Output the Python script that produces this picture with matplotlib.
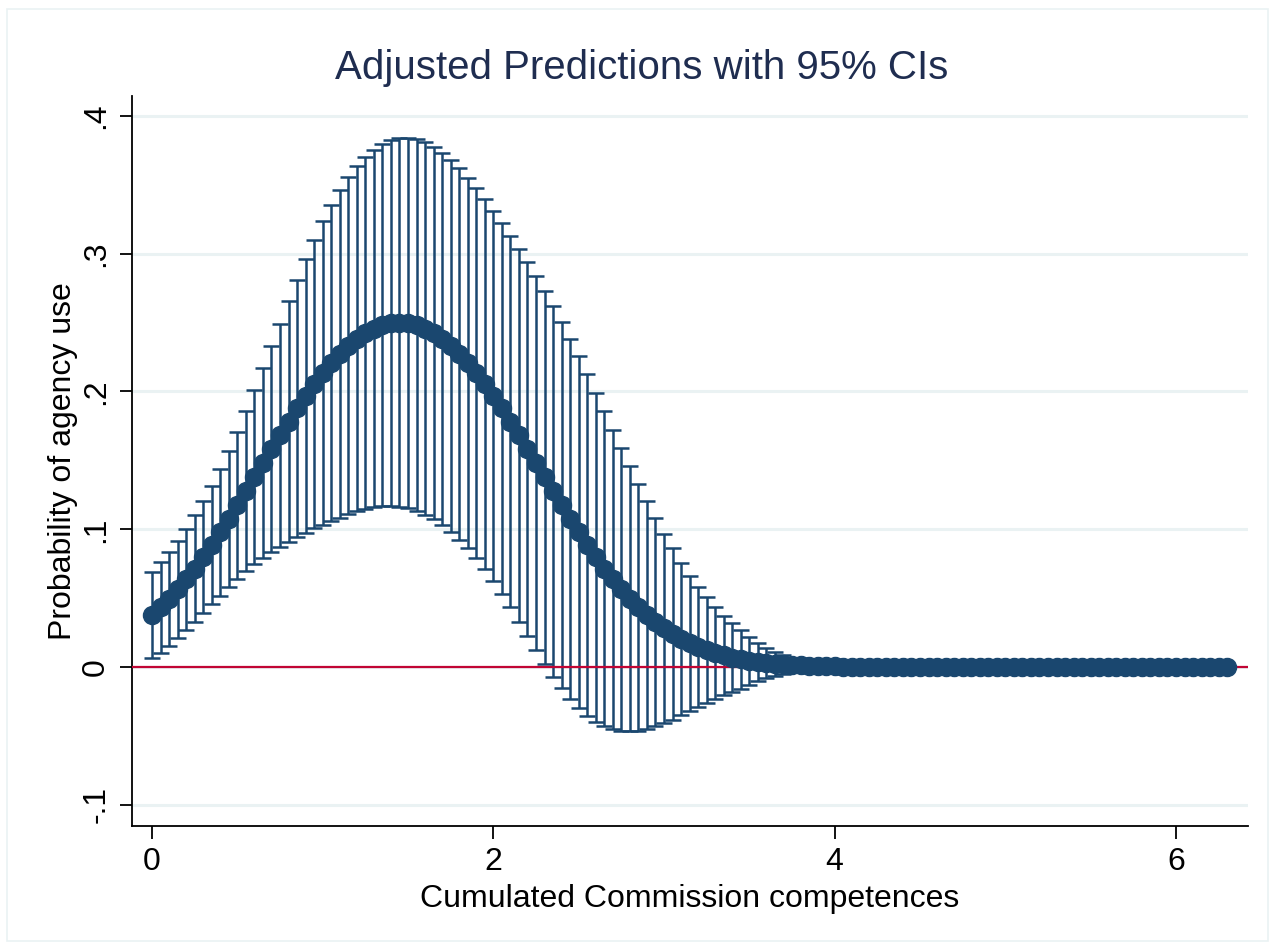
import matplotlib
matplotlib.use("Agg")
import matplotlib.pyplot as plt
from matplotlib.patches import Rectangle

plt.rcParams["font.family"] = ["Liberation Sans", "DejaVu Sans"]

# evaluation points of cumulated Commission competences
competences = [
    0.00, 0.05, 0.10, 0.15, 0.20, 0.25, 0.30, 0.35, 0.40, 0.45,
    0.50, 0.55, 0.60, 0.65, 0.70, 0.75, 0.80, 0.85, 0.90, 0.95,
    1.00, 1.05, 1.10, 1.15, 1.20, 1.25, 1.30, 1.35, 1.40, 1.45,
    1.50, 1.55, 1.60, 1.65, 1.70, 1.75, 1.80, 1.85, 1.90, 1.95,
    2.00, 2.05, 2.10, 2.15, 2.20, 2.25, 2.30, 2.35, 2.40, 2.45,
    2.50, 2.55, 2.60, 2.65, 2.70, 2.75, 2.80, 2.85, 2.90, 2.95,
    3.00, 3.05, 3.10, 3.15, 3.20, 3.25, 3.30, 3.35, 3.40, 3.45,
    3.50, 3.55, 3.60, 3.65, 3.70, 3.75, 3.80, 3.85, 3.90, 3.95,
    4.00, 4.05, 4.10, 4.15, 4.20, 4.25, 4.30, 4.35, 4.40, 4.45,
    4.50, 4.55, 4.60, 4.65, 4.70, 4.75, 4.80, 4.85, 4.90, 4.95,
    5.00, 5.05, 5.10, 5.15, 5.20, 5.25, 5.30, 5.35, 5.40, 5.45,
    5.50, 5.55, 5.60, 5.65, 5.70, 5.75, 5.80, 5.85, 5.90, 5.95,
    6.00, 6.05, 6.10, 6.15, 6.20, 6.25, 6.30,
]

# predicted probability of agency use
prob = [
    0.0377, 0.0433, 0.0495, 0.0563, 0.0636, 0.0714, 0.0798, 0.0886, 0.0978, 0.1074,
    0.1174, 0.1275, 0.1377, 0.1480, 0.1582, 0.1683, 0.1782, 0.1877, 0.1968, 0.2053,
    0.2134, 0.2207, 0.2273, 0.2332, 0.2383, 0.2424, 0.2457, 0.2481, 0.2495, 0.2500,
    0.2495, 0.2481, 0.2457, 0.2424, 0.2383, 0.2332, 0.2273, 0.2207, 0.2134, 0.2053,
    0.1968, 0.1877, 0.1782, 0.1683, 0.1582, 0.1480, 0.1377, 0.1275, 0.1174, 0.1074,
    0.0978, 0.0886, 0.0798, 0.0714, 0.0636, 0.0563, 0.0495, 0.0433, 0.0377, 0.0326,
    0.0280, 0.0240, 0.0204, 0.0173, 0.0145, 0.0122, 0.0101, 0.0084, 0.0069, 0.0056,
    0.0046, 0.0037, 0.0030, 0.0024, 0.0019, 0.0015, 0.0012, 0.0009, 0.0007, 0.0006,
    0.0004, 0.0003, 0.0003, 0.0002, 0.0002, 0.0001, 0.0001, 0.0001, 0.0000, 0.0000,
    0.0000, 0.0000, 0.0000, 0.0000, 0.0000, 0.0000, 0.0000, 0.0000, 0.0000, 0.0000,
    0.0000, 0.0000, 0.0000, 0.0000, 0.0000, 0.0000, 0.0000, 0.0000, 0.0000, 0.0000,
    0.0000, 0.0000, 0.0000, 0.0000, 0.0000, 0.0000, 0.0000, 0.0000, 0.0000, 0.0000,
    0.0000, 0.0000, 0.0000, 0.0000, 0.0000, 0.0000, 0.0000,
]

# half width of the 95% confidence interval
ci_half = [
    0.0312, 0.0329, 0.0343, 0.0355, 0.0369, 0.0386, 0.0405, 0.0431, 0.0460, 0.0494,
    0.0534, 0.0580, 0.0632, 0.0688, 0.0746, 0.0810, 0.0874, 0.0935, 0.0992, 0.1047,
    0.1105, 0.1150, 0.1190, 0.1223, 0.1252, 0.1276, 0.1296, 0.1313, 0.1327, 0.1337,
    0.1344, 0.1349, 0.1351, 0.1352, 0.1351, 0.1350, 0.1348, 0.1346, 0.1345, 0.1344,
    0.1344, 0.1345, 0.1348, 0.1353, 0.1356, 0.1358, 0.1356, 0.1344, 0.1327, 0.1306,
    0.1278, 0.1240, 0.1194, 0.1143, 0.1087, 0.1028, 0.0962, 0.0894, 0.0825, 0.0756,
    0.0689, 0.0624, 0.0553, 0.0491, 0.0438, 0.0384, 0.0333, 0.0287, 0.0250, 0.0212,
    0.0175, 0.0140, 0.0110, 0.0086, 0.0069, 0.0054, 0.0044, 0.0034, 0.0026, 0.0020,
    0.0015, 0.0011, 0.0008, 0.0006, 0.0004, 0.0003, 0.0002, 0.0002, 0.0001, 0.0001,
    0.0001, 0.0000, 0.0000, 0.0000, 0.0000, 0.0000, 0.0000, 0.0000, 0.0000, 0.0000,
    0.0000, 0.0000, 0.0000, 0.0000, 0.0000, 0.0000, 0.0000, 0.0000, 0.0000, 0.0000,
    0.0000, 0.0000, 0.0000, 0.0000, 0.0000, 0.0000, 0.0000, 0.0000, 0.0000, 0.0000,
    0.0000, 0.0000, 0.0000, 0.0000, 0.0000, 0.0000, 0.0000,
]

x_ticks = [0, 2, 4, 6]
y_ticks = [-0.1, 0, 0.1, 0.2, 0.3, 0.4]
y_tick_labels = ["-.1", "0", ".1", ".2", ".3", ".4"]

navy = "#1a476f"
grid_col = "#eaf2f3"

fig = plt.figure(figsize=(12.75, 9.49), dpi=100)
ax = fig.add_axes([132 / 1275, 1 - 826 / 949, (1248 - 132) / 1275, (826 - 96) / 949])

for y in y_ticks:
    ax.axhline(y, color=grid_col, lw=2.2, zorder=0)

ax.errorbar(competences, prob, yerr=ci_half, fmt="none", ecolor=navy,
            elinewidth=1.8, capsize=6, capthick=1.8, zorder=2)
ax.axhline(0, color="#c10534", lw=1.6, zorder=3)
ax.plot(competences, prob, "o", color=navy, markersize=13, zorder=4)

ax.set_xlim(-0.117, 6.422)
ax.set_ylim(-0.1154, 0.4145)
ax.set_xticks(x_ticks)
ax.set_yticks(y_ticks)
ax.set_yticklabels(y_tick_labels, rotation=90, va="center")

for s in ["top", "right"]:
    ax.spines[s].set_visible(False)
for s in ["left", "bottom"]:
    ax.spines[s].set_linewidth(1.3)

ax.tick_params(axis="both", length=9, width=1.3, labelsize=23, pad=6)
ax.set_xlabel("Cumulated Commission competences", fontsize=23, labelpad=5)
ax.set_ylabel("Probability of agency use", fontsize=23, labelpad=2)

fig.suptitle("Adjusted Predictions with 95% CIs", fontsize=29, color="#1f2d50",
             x=0.503, y=0.948)

fig.patches.append(Rectangle((7 / 1275, 8 / 949), 1261 / 1275, 932 / 949,
                             transform=fig.transFigure, fill=False,
                             edgecolor=grid_col, lw=1.2))

fig.savefig("out.png", dpi=100, facecolor="white")
